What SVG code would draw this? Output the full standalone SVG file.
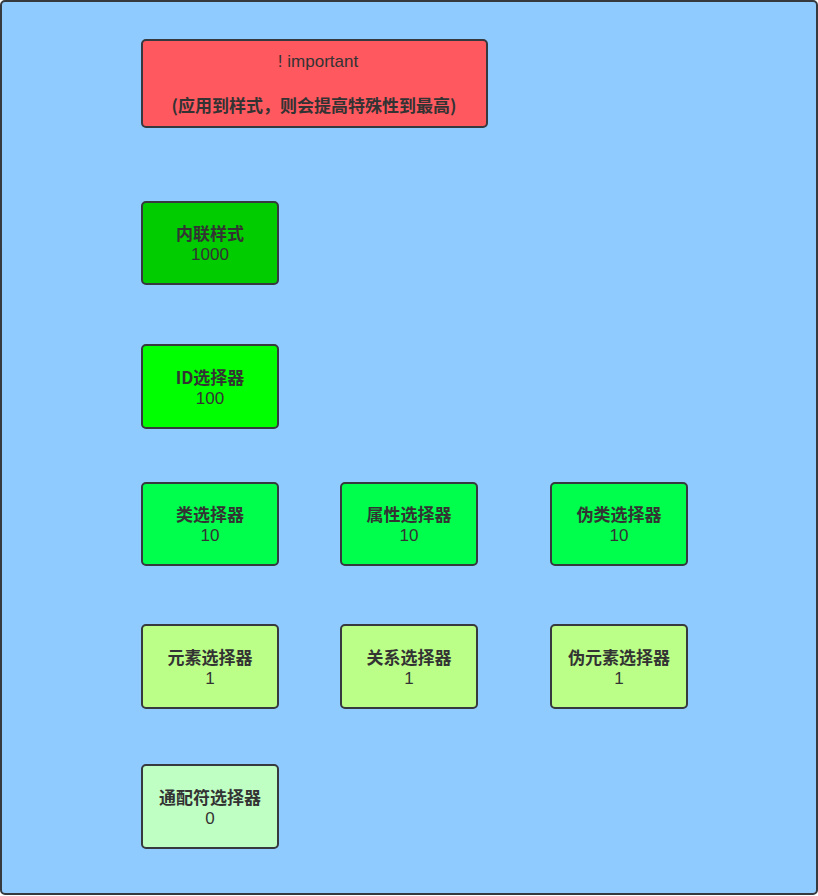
<svg xmlns="http://www.w3.org/2000/svg" width="818" height="896" viewBox="0 0 818 896">
<style>
.box{stroke:#36393d;stroke-width:2}
.t{font-family:"Noto Sans CJK SC","DejaVu Sans",sans-serif;font-size:17px;font-weight:bold;fill:#333;text-anchor:middle}
.n{font-family:"Liberation Sans","DejaVu Sans",sans-serif;font-size:17px;fill:#333;text-anchor:middle}
</style>
<rect x="1" y="1" width="816" height="893" rx="4" fill="#90CBFF" stroke="#36393d" stroke-width="2"/>
<g id="important">
<rect class="box" x="142" y="40" width="345" height="87" rx="4" fill="#FF585F"/>
<text class="n" x="318" y="67">! important</text>
<text class="t" x="314" y="112">(应用到样式，则会提高特殊性到最高)</text>
</g>
<g id="inline">
<rect class="box" x="142" y="202" width="136" height="82" rx="4" fill="#00CC00"/>
<text class="t" x="210" y="240">内联样式</text>
<text class="n" x="210" y="260">1000</text>
</g>
<g id="id">
<rect class="box" x="142" y="345" width="136" height="83" rx="4" fill="#00FF00"/>
<text class="t" x="210" y="384">ID选择器</text>
<text class="n" x="210" y="404">100</text>
</g>
<g id="class">
<rect class="box" x="142" y="483" width="136" height="82" rx="4" fill="#00FF4C"/>
<text class="t" x="210" y="521">类选择器</text>
<text class="n" x="210" y="541">10</text>
</g>
<g id="attr">
<rect class="box" x="341" y="483" width="136" height="82" rx="4" fill="#00FF4C"/>
<text class="t" x="409" y="521">属性选择器</text>
<text class="n" x="409" y="541">10</text>
</g>
<g id="pseudo-class">
<rect class="box" x="551" y="483" width="136" height="82" rx="4" fill="#00FF4C"/>
<text class="t" x="619" y="521">伪类选择器</text>
<text class="n" x="619" y="541">10</text>
</g>
<g id="element">
<rect class="box" x="142" y="625" width="136" height="83" rx="4" fill="#BBFF88"/>
<text class="t" x="210" y="664">元素选择器</text>
<text class="n" x="210" y="684">1</text>
</g>
<g id="relation">
<rect class="box" x="341" y="625" width="136" height="83" rx="4" fill="#BBFF88"/>
<text class="t" x="409" y="664">关系选择器</text>
<text class="n" x="409" y="684">1</text>
</g>
<g id="pseudo-element">
<rect class="box" x="551" y="625" width="136" height="83" rx="4" fill="#BBFF88"/>
<text class="t" x="619" y="664">伪元素选择器</text>
<text class="n" x="619" y="684">1</text>
</g>
<g id="universal">
<rect class="box" x="142" y="765" width="136" height="83" rx="4" fill="#C0FFC4"/>
<text class="t" x="210" y="804">通配符选择器</text>
<text class="n" x="210" y="824">0</text>
</g>
<g id="connectors"></g>
</svg>
